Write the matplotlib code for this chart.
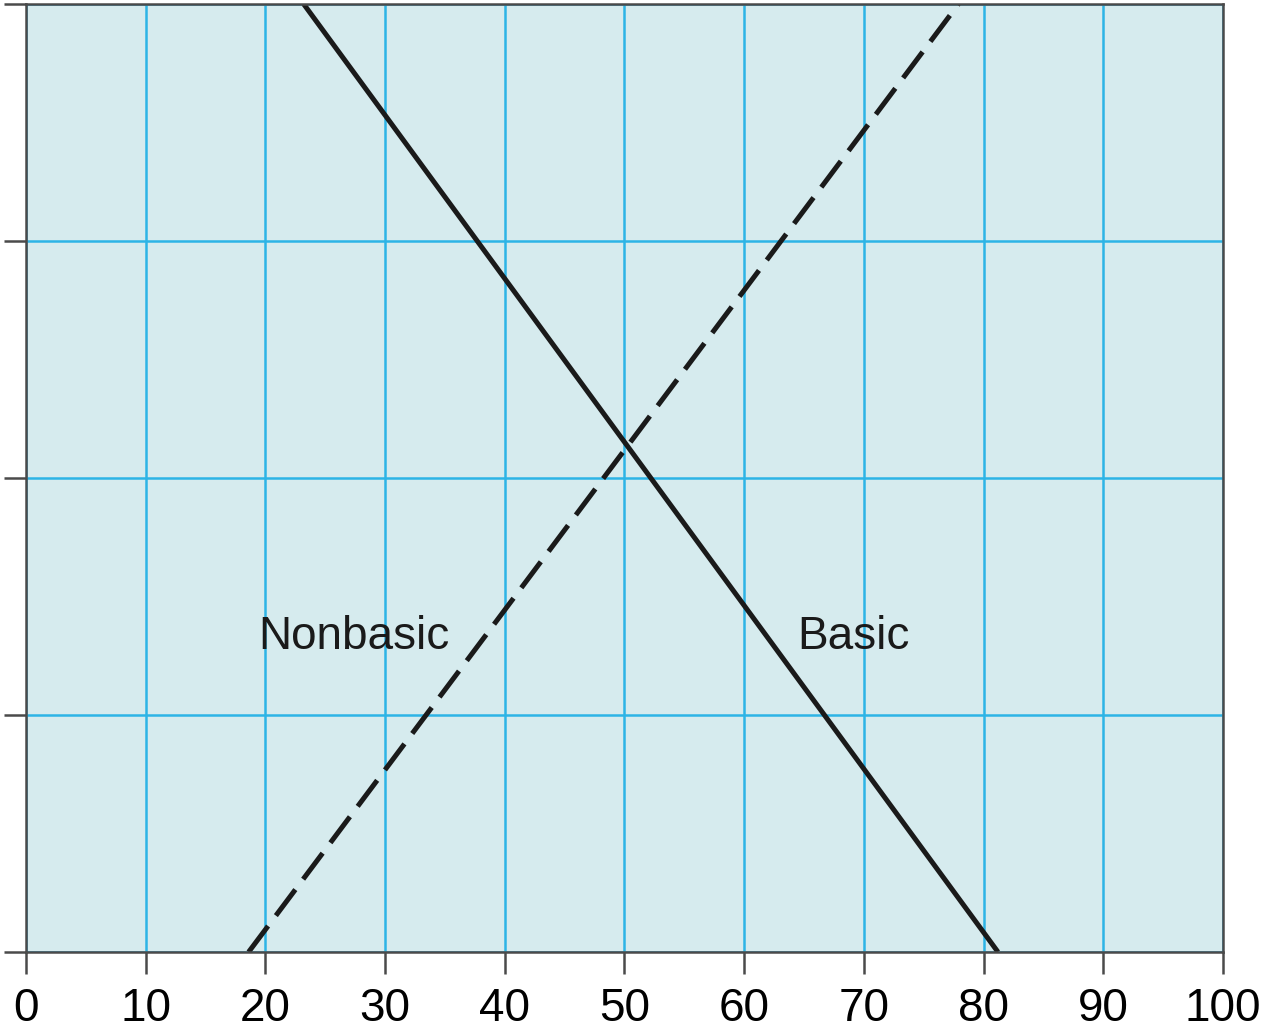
import matplotlib.pyplot as plt

##############################
x_ticks = [0, 10, 20, 30, 40, 50, 60, 70, 80, 90, 100]
y_ticks = [0, 1, 2, 3, 4]
basic_x = [23.2, 81.2]
basic_y = [4, 0]
nonbasic_x = [18.6, 77.9]
nonbasic_y = [0, 4]
labels = ['Nonbasic', 'Basic']
label_pos = [(19.4, 1.33), (64.4, 1.33)]
##############################

plt.rcParams['font.family'] = ['Liberation Sans', 'DejaVu Sans']

fig = plt.figure(figsize=(12.72, 10.31), dpi=100)
ax = fig.add_axes([0.0204, 0.0766, 0.9411, 0.9195])
ax.set_facecolor('#d6ebee')

ax.set_xlim(0, 100)
ax.set_ylim(0, 4)
ax.set_xticks(x_ticks)
ax.set_yticks(y_ticks)
ax.set_yticklabels([])
ax.grid(True, color='#2db4e6', linewidth=1.8)
ax.set_axisbelow(True)

for s in ax.spines.values():
    s.set_color('#4a4a4a')
    s.set_linewidth(1.8)
ax.tick_params(axis='both', direction='out', length=16, width=1.8, color='#4a4a4a',
               labelsize=33, pad=9)

ax.plot(basic_x, basic_y, color='#1a1a1a', linewidth=3.6, solid_capstyle='butt')
ax.plot(nonbasic_x, nonbasic_y, color='#1a1a1a', linewidth=3.6,
        dashes=(6.5, 2.6), dash_capstyle='butt')

for txt, (tx, ty) in zip(labels, label_pos):
    ax.text(tx, ty, txt, fontsize=33, color='#1a1a1a', ha='left', va='center')

plt.savefig('out.png', dpi=100)
plt.close()
